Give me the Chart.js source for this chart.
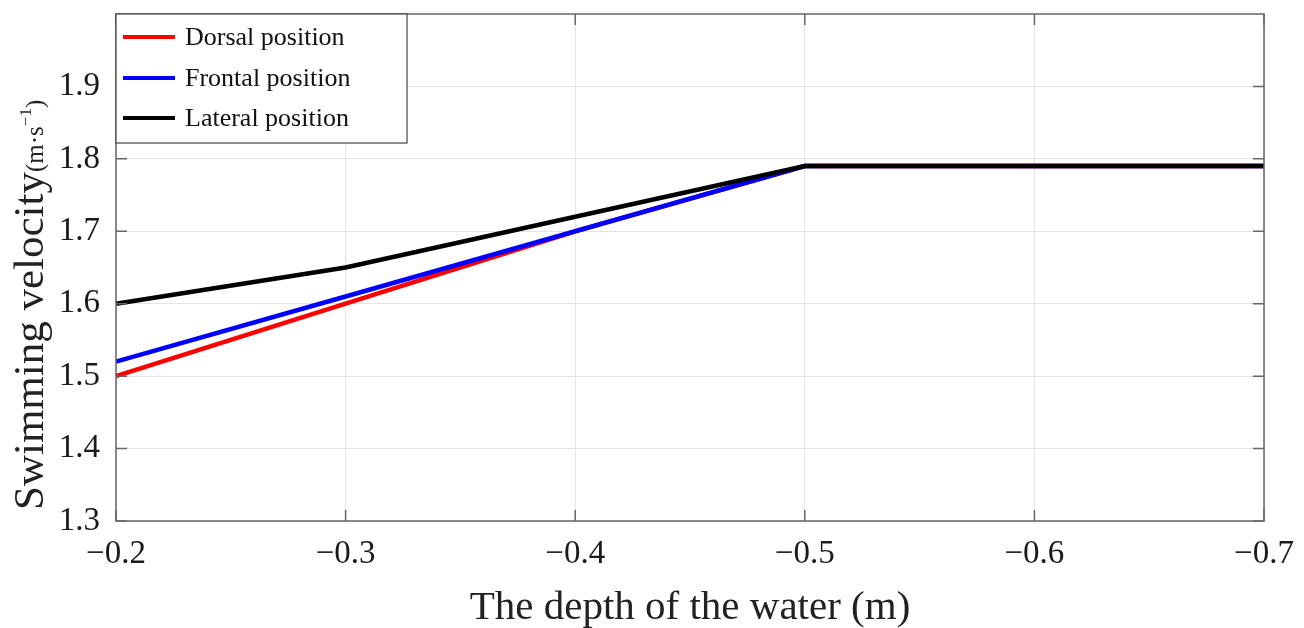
<!DOCTYPE html>
<html>
<head>
<meta charset="utf-8">
<script src="https://cdn.jsdelivr.net/npm/chart.js@4.4.0/dist/chart.umd.min.js"></script>
<style>
html,body{margin:0;padding:0;background:#fff;}
#wrap{width:1304px;height:628px;position:relative;}
</style>
</head>
<body>
<div id="wrap"><canvas id="c" width="1304" height="628"></canvas></div>
<script>
// ---- data ----
const depths = [-0.2, -0.3, -0.4, -0.5, -0.6, -0.7];
const dorsal  = [1.50, 1.60, 1.70, 1.79, 1.79, 1.79];
const frontal = [1.52, 1.61, 1.70, 1.79, 1.79, 1.79];
const lateral = [1.60, 1.65, 1.72, 1.79, 1.79, 1.79];
const seriesNames = ['Dorsal position', 'Frontal position', 'Lateral position'];
const seriesColors = ['#ff0000', '#0000ff', '#000000'];
const xTicks = [-0.2, -0.3, -0.4, -0.5, -0.6, -0.7];
const yTicks = [1.3, 1.4, 1.5, 1.6, 1.7, 1.8, 1.9];
const xTitle = 'The depth of the water (m)';
const yTitleMain = 'Swimming velocity';
const yTitleUnit = ['(m·s', '−1', ')'];

const FONT = '"Liberation Serif", "Times New Roman", serif';
const toPts = arr => arr.map((v, i) => ({x: depths[i], y: v}));
const fmt = v => (v < 0 ? '\u2212' : '') + Math.abs(v).toFixed(1);

const frame = {
  id: 'frame',
  afterDraw(chart) {
    const {ctx, chartArea: a, scales} = chart;
    ctx.save();
    // inward tick marks
    ctx.strokeStyle = '#666';
    ctx.lineWidth = 1.5;
    const tl = 11;
    ctx.beginPath();
    xTicks.forEach(t => {
      const x = scales.x.getPixelForValue(t);
      ctx.moveTo(x, a.bottom); ctx.lineTo(x, a.bottom - tl);
      ctx.moveTo(x, a.top); ctx.lineTo(x, a.top + tl);
    });
    yTicks.forEach(t => {
      const y = scales.y.getPixelForValue(t);
      ctx.moveTo(a.left, y); ctx.lineTo(a.left + tl, y);
      ctx.moveTo(a.right, y); ctx.lineTo(a.right - tl, y);
    });
    ctx.stroke();
    // box
    ctx.strokeRect(a.left, a.top, a.right - a.left, a.bottom - a.top);

    // legend
    const lx = a.left, ly = a.top, lw = 291, lh = 129;
    ctx.fillStyle = '#fff';
    ctx.fillRect(lx, ly, lw, lh);
    ctx.strokeStyle = '#444';
    ctx.lineWidth = 1.2;
    ctx.strokeRect(lx, ly, lw, lh);
    const rows = [23, 64, 104];
    ctx.font = '26px ' + FONT;
    ctx.textBaseline = 'middle';
    ctx.textAlign = 'left';
    chart.data.datasets.forEach((ds, i) => {
      const y = ly + rows[i];
      ctx.strokeStyle = ds.borderColor;
      ctx.lineWidth = 4;
      ctx.beginPath();
      ctx.moveTo(lx + 7, y); ctx.lineTo(lx + 59, y);
      ctx.stroke();
      ctx.fillStyle = '#111';
      ctx.fillText(ds.label, lx + 69, y + 1);
    });

    // x title
    ctx.fillStyle = '#222';
    ctx.font = '41px ' + FONT;
    ctx.textAlign = 'center';
    ctx.textBaseline = 'alphabetic';
    ctx.fillText(xTitle, (a.left + a.right) / 2, 619);

    // y title (rotated)
    ctx.save();
    ctx.translate(43, 510);
    ctx.rotate(-Math.PI / 2);
    ctx.textAlign = 'left';
    ctx.font = '43px ' + FONT;
    let x = 0;
    ctx.fillText(yTitleMain, x, 0);
    x += ctx.measureText(yTitleMain).width;
    ctx.font = '25px ' + FONT;
    ctx.fillText(yTitleUnit[0], x, 0);
    x += ctx.measureText(yTitleUnit[0]).width;
    ctx.font = '17px ' + FONT;
    ctx.fillText(yTitleUnit[1], x, -12);
    x += ctx.measureText(yTitleUnit[1]).width;
    ctx.font = '25px ' + FONT;
    ctx.fillText(yTitleUnit[2], x, 0);
    ctx.restore();

    ctx.restore();
  }
};

new Chart(document.getElementById('c'), {
  type: 'line',
  data: {
    datasets: [
      {label: seriesNames[0], data: toPts(dorsal), borderColor: seriesColors[0], order: 3},
      {label: seriesNames[1], data: toPts(frontal), borderColor: seriesColors[1], order: 2},
      {label: seriesNames[2], data: toPts(lateral), borderColor: seriesColors[2], order: 1}
    ].map(d => Object.assign(d, {borderWidth: 4.5, pointRadius: 0, tension: 0, fill: false, clip: false}))
  },
  options: {
    responsive: false,
    animation: false,
    events: [],
    layout: {padding: {top: 14, right: 40, left: 0, bottom: 0}},
    plugins: {legend: {display: false}, tooltip: {enabled: false}},
    scales: {
      x: {
        type: 'linear',
        min: -0.7, max: -0.2,
        reverse: true,
        afterBuildTicks: s => { s.ticks = xTicks.map(v => ({value: v})); },
        afterFit: s => { s.height = 107; s.paddingLeft = 0; s.paddingRight = 0; },
        grid: {color: '#e4e4e4', lineWidth: 1, drawTicks: false},
        border: {display: false},
        ticks: {
          padding: 14,
          color: '#1a1a1a',
          font: {family: FONT, size: 33},
          maxRotation: 0,
          callback: v => fmt(v)
        }
      },
      y: {
        type: 'linear',
        min: 1.3, max: 2.0,
        afterBuildTicks: s => { s.ticks = yTicks.map(v => ({value: v})); },
        afterFit: s => { s.width = 116; s.paddingTop = 0; s.paddingBottom = 0; },
        grid: {color: '#e4e4e4', lineWidth: 1, drawTicks: false},
        border: {display: false},
        ticks: {
          padding: 16,
          color: '#1a1a1a',
          font: {family: FONT, size: 33},
          callback: v => v.toFixed(1)
        }
      }
    }
  },
  plugins: [frame]
});
</script>
</body>
</html>
